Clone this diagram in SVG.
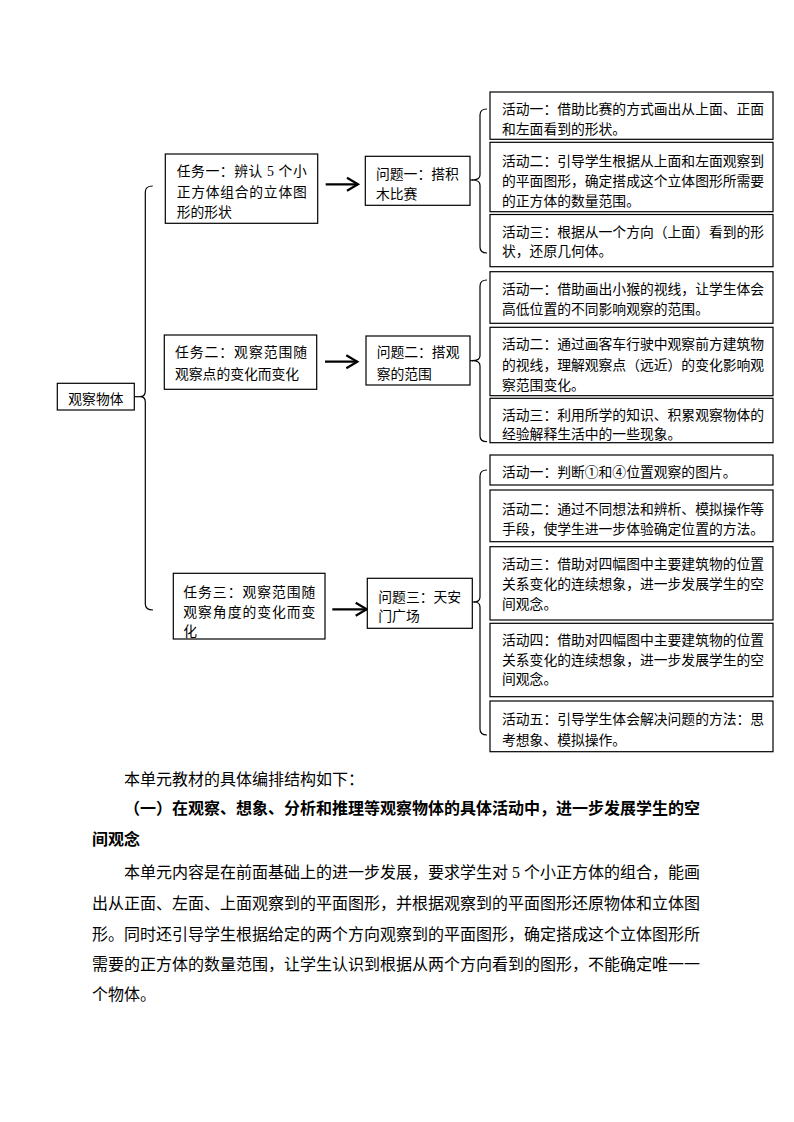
<svg xmlns="http://www.w3.org/2000/svg" width="794" height="1122" viewBox="0 0 794 1122">
<style>
.bg{fill:#fff}
.box{fill:#fff;stroke:#000;stroke-width:1.2}
.t{font-family:"Liberation Serif","Noto Sans CJK SC",serif;font-size:13.8px;fill:#000}
.body{font-family:"Liberation Serif","Noto Sans CJK SC",serif;font-size:16px;fill:#000}
.b{font-weight:bold}
.br{fill:none;stroke:#000;stroke-width:1.2}
.ar{fill:none;stroke:#000;stroke-width:2.2}
</style>
<defs>
<marker id="chev" markerUnits="userSpaceOnUse" markerWidth="14" markerHeight="16" refX="11" refY="6.5" orient="auto" overflow="visible">
<path d="M0,0 L11,6.5 L0,13" fill="none" stroke="#000" stroke-width="2.2"/>
</marker>
</defs>
<rect class="bg" x="0" y="0" width="794" height="1122"/>

<g id="connectors">
<path class="br" d="M152.7,186 Q145.3,186 145.3,192 L145.3,391 Q145.3,396.7 140,396.7 Q145.3,396.7 145.3,402 L145.3,604 Q145.3,610 153,610"/>
<line class="br" x1="134.3" y1="396.7" x2="140" y2="396.7"/>
<line class="ar" x1="325.7" y1="184.3" x2="358" y2="184.3" marker-end="url(#chev)"/>
<line class="ar" x1="325" y1="361.7" x2="357.3" y2="361.7" marker-end="url(#chev)"/>
<line class="ar" x1="332.3" y1="609.3" x2="366.7" y2="609.3" marker-end="url(#chev)"/>
<path class="br" d="M487,109 Q480,109 480,115 L480,175 Q480,180 472,180 Q480,180 480,185 L480,247 Q480,253 487,253"/>
<line class="br" x1="470" y1="180" x2="473" y2="180"/>
<path class="br" d="M487,280 Q480,280 480,286 L480,355.7 Q480,360.7 472,360.7 Q480,360.7 480,365.7 L480,435.7 Q480,441.7 487,441.7"/>
<line class="br" x1="470" y1="360.7" x2="473" y2="360.7"/>
<path class="br" d="M487,470 Q480,470 480,476 L480,597 Q480,602 474,602 Q480,602 480,607 L480,729 Q480,735 487,735"/>
<line class="br" x1="472.3" y1="602" x2="475" y2="602"/>
</g>

<g id="root">
<rect class="box" x="57.3" y="383.3" width="77" height="26.7"/>
<text class="t" x="68.3" y="404.2">观察物体</text>
</g>

<g id="task1">
<rect class="box" x="165.3" y="154" width="152.4" height="69.3"/>
<text class="t" x="176.7" y="176" textLength="130" lengthAdjust="spacing">任务一：辨认 5 个小</text>
<text class="t" x="176.7" y="197" textLength="130" lengthAdjust="spacing">正方体组合的立体图</text>
<text class="t" x="176.7" y="217">形的形状</text>
</g>
<g id="task2">
<rect class="box" x="164.3" y="335" width="152.4" height="54.3"/>
<text class="t" x="175" y="357" textLength="132" lengthAdjust="spacing">任务二：观察范围随</text>
<text class="t" x="175" y="378.5">观察点的变化而变化</text>
</g>
<g id="task3">
<rect class="box" x="173.3" y="573.3" width="151.7" height="65.7"/>
<text class="t" x="183.3" y="597" textLength="132" lengthAdjust="spacing">任务三：观察范围随</text>
<text class="t" x="183.3" y="617" textLength="132" lengthAdjust="spacing">观察角度的变化而变</text>
<text class="t" x="183.3" y="635.5">化</text>
</g>

<g id="problem1">
<rect class="box" x="365.3" y="156.3" width="104.7" height="49"/>
<text class="t" x="376" y="178.5">问题一：搭积</text>
<text class="t" x="376" y="198.5">木比赛</text>
</g>
<g id="problem2">
<rect class="box" x="366" y="336" width="104" height="49"/>
<text class="t" x="376.7" y="357">问题二：搭观</text>
<text class="t" x="376.7" y="378.5">察的范围</text>
</g>
<g id="problem3">
<rect class="box" x="367.3" y="578.3" width="105" height="50"/>
<text class="t" x="378.3" y="601.5">问题三：天安</text>
<text class="t" x="378.3" y="621">门广场</text>
</g>

<g id="act1-1">
<rect class="box" x="490" y="92" width="283" height="47.3"/>
<text class="t" x="502" y="113.5">活动一：借助比赛的方式画出从上面、正面</text>
<text class="t" x="502" y="133.5">和左面看到的形状。</text>
</g>
<g id="act1-2">
<rect class="box" x="490" y="142.3" width="283" height="69.4"/>
<text class="t" x="502" y="166">活动二：引导学生根据从上面和左面观察到</text>
<text class="t" x="502" y="186">的平面图形，确定搭成这个立体图形所需要</text>
<text class="t" x="502" y="206">的正方体的数量范围。</text>
</g>
<g id="act1-3">
<rect class="box" x="490" y="214.5" width="283" height="52.2"/>
<text class="t" x="502" y="236.5">活动三：根据从一个方向（上面）看到的形</text>
<text class="t" x="502" y="256">状，还原几何体。</text>
</g>

<g id="act2-1">
<rect class="box" x="490" y="271.7" width="283" height="51.6"/>
<text class="t" x="502" y="293.5">活动一：借助画出小猴的视线，让学生体会</text>
<text class="t" x="502" y="314">高低位置的不同影响观察的范围。</text>
</g>
<g id="act2-2">
<rect class="box" x="490" y="327.3" width="283" height="68.4"/>
<text class="t" x="502" y="348.5">活动二：通过画客车行驶中观察前方建筑物</text>
<text class="t" x="502" y="369.5">的视线，理解观察点（远近）的变化影响观</text>
<text class="t" x="502" y="390">察范围变化。</text>
</g>
<g id="act2-3">
<rect class="box" x="490" y="398.3" width="283" height="44.4"/>
<text class="t" x="502" y="420">活动三：利用所学的知识、积累观察物体的</text>
<text class="t" x="502" y="439">经验解释生活中的一些现象。</text>
</g>

<g id="act3-1">
<rect class="box" x="490" y="455" width="283" height="30"/>
<text class="t" x="502" y="477">活动一：判断①和④位置观察的图片。</text>
</g>
<g id="act3-2">
<rect class="box" x="490" y="490" width="283" height="51.7"/>
<text class="t" x="502" y="513.5">活动二：通过不同想法和辨析、模拟操作等</text>
<text class="t" x="502" y="533.5">手段，使学生进一步体验确定位置的方法。</text>
</g>
<g id="act3-3">
<rect class="box" x="490" y="546.7" width="283" height="73.3"/>
<text class="t" x="502" y="568.5">活动三：借助对四幅图中主要建筑物的位置</text>
<text class="t" x="502" y="588.5">关系变化的连续想象，进一步发展学生的空</text>
<text class="t" x="502" y="608.5">间观念。</text>
</g>
<g id="act3-4">
<rect class="box" x="490" y="623.3" width="283" height="73.4"/>
<text class="t" x="502" y="645">活动四：借助对四幅图中主要建筑物的位置</text>
<text class="t" x="502" y="665">关系变化的连续想象，进一步发展学生的空</text>
<text class="t" x="502" y="684">间观念。</text>
</g>
<g id="act3-5">
<rect class="box" x="490" y="701" width="283" height="50.7"/>
<text class="t" x="502" y="723.5">活动五：引导学生体会解决问题的方法：思</text>
<text class="t" x="502" y="745">考想象、模拟操作。</text>
</g>

<g id="body-text">
<text class="body" x="124" y="785">本单元教材的具体编排结构如下：</text>
<text class="body b" x="124" y="814">（一）在观察、想象、分析和推理等观察物体的具体活动中，进一步发展学生的空</text>
<text class="body b" x="92" y="845">间观念</text>
<text class="body" x="124" y="878">本单元内容是在前面基础上的进一步发展，要求学生对 5 个小正方体的组合，能画</text>
<text class="body" x="92" y="909">出从正面、左面、上面观察到的平面图形，并根据观察到的平面图形还原物体和立体图</text>
<text class="body" x="92" y="940">形。同时还引导学生根据给定的两个方向观察到的平面图形，确定搭成这个立体图形所</text>
<text class="body" x="92" y="970">需要的正方体的数量范围，让学生认识到根据从两个方向看到的图形，不能确定唯一一</text>
<text class="body" x="92" y="1000">个物体。</text>
</g>
</svg>
